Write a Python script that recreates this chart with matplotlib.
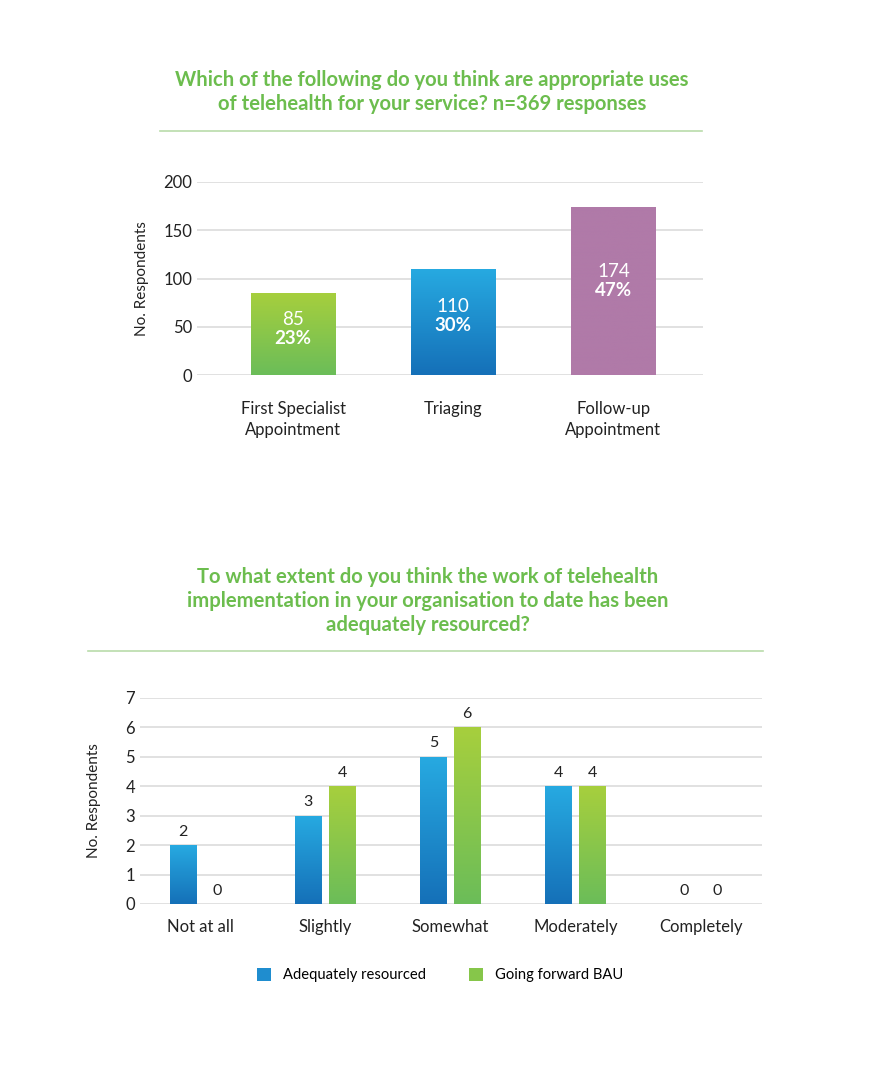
import numpy as np
import matplotlib.pyplot as plt
from matplotlib.colors import LinearSegmentedColormap
from matplotlib.patches import Patch

# chart 1 data
uses = ['First Specialist\nAppointment', 'Triaging', 'Follow-up\nAppointment']
use_counts = [85, 110, 174]
use_pcts = ['23%', '30%', '47%']

# chart 2 data
extent = ['Not at all', 'Slightly', 'Somewhat', 'Moderately', 'Completely']
adequately = [2, 3, 5, 4, 0]
going_forward = [0, 4, 6, 4, 0]
series_names = ['Adequately resourced', 'Going forward BAU']

TITLE_GREEN = '#6cbd4e'
RULE_GREEN = '#b9dcaa'
GRID = '#dcdcdc'
TEXT = '#222222'

green_cm = LinearSegmentedColormap.from_list('g', ['#6bbd59', '#a7cf3d'])
blue_cm = LinearSegmentedColormap.from_list('b', ['#1570b8', '#27aae1'])
purple_cm = LinearSegmentedColormap.from_list('p', ['#b07aa8', '#b07aa8'])

plt.rcParams['font.family'] = ['Lato', 'DejaVu Sans']


def gradient_bars(ax, bars, cmaps):
    grad = np.linspace(0, 1, 256).reshape(-1, 1)
    for b, cm in zip(bars, cmaps):
        x0, y0 = b.get_x(), b.get_y()
        w, h = b.get_width(), b.get_height()
        if h <= 0:
            continue
        b.set_facecolor('none')
        b.set_edgecolor('none')
        im = ax.imshow(grad, cmap=cm, origin='lower', aspect='auto',
                       extent=(x0, x0 + w, y0, y0 + h), zorder=3)
        im.set_clip_path(b)


def style_axes(ax, labelpad):
    for s in ax.spines.values():
        s.set_visible(False)
    ax.grid(axis='y', color=GRID, linewidth=1.2)
    ax.set_axisbelow(True)
    ax.tick_params(length=0, colors=TEXT, labelsize=12)
    ax.set_ylabel('No. Respondents', fontsize=11, color=TEXT, labelpad=labelpad)


fig = plt.figure(figsize=(8.72, 10.73), dpi=100)
W, H = 872, 1073


def px_axes(l, t, r, b):
    return fig.add_axes([l / W, 1 - b / H, (r - l) / W, (b - t) / H])


# ---- top chart ----
fig.text(432 / W, 1 - 92 / H,
         'Which of the following do you think are appropriate uses\nof telehealth for your service? n=369 responses',
         ha='center', va='center', fontsize=14.6, fontweight='bold', color=TITLE_GREEN,
         linespacing=1.25)
fig.add_artist(plt.Line2D([160 / W, 702 / W], [1 - 131 / H] * 2, color=RULE_GREEN, lw=1.2))

ax1 = px_axes(197, 182, 703, 375)
x1 = np.arange(len(uses))
bars1 = ax1.bar(x1, use_counts, width=0.53, zorder=3)
gradient_bars(ax1, bars1, [green_cm, blue_cm, purple_cm])
ax1.set_xlim(-0.6, 2.56)
ax1.set_ylim(0, 200)
ax1.set_yticks([0, 50, 100, 150, 200])
ax1.set_xticks(x1)
ax1.set_xticklabels(uses, fontsize=12.5, linespacing=1.35)
ax1.tick_params(axis='x', pad=19)
style_axes(ax1, 10)
for xi, v, p in zip(x1, use_counts, use_pcts):
    ax1.text(xi, v * 0.56 + 1, str(v), ha='center', va='bottom', color='white',
             fontsize=13.5, zorder=5)
    ax1.text(xi, v * 0.56 - 1, p, ha='center', va='top', color='white',
             fontsize=13.5, fontweight='bold', zorder=5)

# ---- bottom chart ----
fig.text(428 / W, 1 - 601 / H,
         'To what extent do you think the work of telehealth\nimplementation in your organisation to date has been\nadequately resourced?',
         ha='center', va='center', fontsize=14.6, fontweight='bold', color=TITLE_GREEN,
         linespacing=1.25)
fig.add_artist(plt.Line2D([88 / W, 763 / W], [1 - 651 / H] * 2, color=RULE_GREEN, lw=1.2))

ax2 = px_axes(140, 698, 762, 904)
x2 = np.arange(len(extent))
bw, off = 0.21, 0.135
b_ad = ax2.bar(x2 - off, adequately, width=bw, zorder=3)
b_gf = ax2.bar(x2 + off, going_forward, width=bw, zorder=3)
gradient_bars(ax2, b_ad, [blue_cm] * len(extent))
gradient_bars(ax2, b_gf, [green_cm] * len(extent))
ax2.set_xlim(-0.48, 4.49)
ax2.set_ylim(0, 7)
ax2.set_yticks(range(8))
ax2.set_xticks(x2)
ax2.set_xticklabels(extent, fontsize=12.5)
ax2.tick_params(axis='x', pad=11)
style_axes(ax2, 18)
for xi, a, g in zip(x2, adequately, going_forward):
    ax2.text(xi - off, a + 0.22, str(a), ha='center', va='bottom', color=TEXT, fontsize=11.5)
    ax2.text(xi + off, g + 0.22, str(g), ha='center', va='bottom', color=TEXT, fontsize=11.5)

handles = [Patch(facecolor='#1f8dcf'), Patch(facecolor='#86c64a')]
fig.legend(handles, series_names, loc='center', bbox_to_anchor=(440 / W, 1 - 975 / H),
           ncol=2, frameon=False, fontsize=10.6, handlelength=1.0, handleheight=1.0,
           columnspacing=2.9, handletextpad=0.8)

fig.savefig('out.png', dpi=100, facecolor='white')
